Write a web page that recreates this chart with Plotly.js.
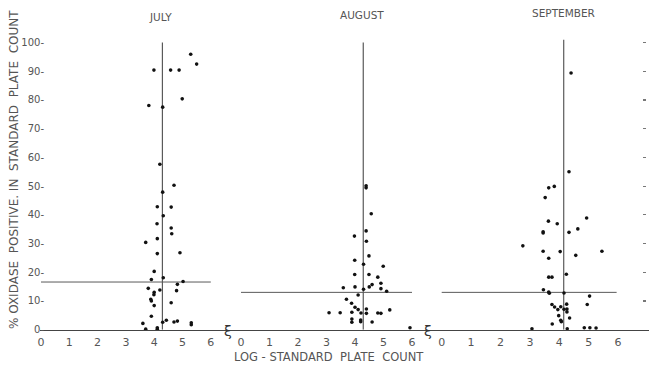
<!DOCTYPE html>
<html>
<head>
<meta charset="utf-8">
<script src="https://cdn.plot.ly/plotly-3.0.1.min.js"></script>
<style>html,body{margin:0;padding:0;background:#fff;}#chart{width:652px;height:367px;}</style>
</head>
<body>
<div id="chart"></div>
<script>
// Panel names
const months = ["JULY", "AUGUST", "SEPTEMBER"];
// Tick labels
const xTickVals = [0, 1, 2, 3, 4, 5, 6];
const yTickVals = [0, 10, 20, 30, 40, 50, 60, 70, 80, 90, 100];
const yTickText = ["0-", "10-", "20-", "30-", "40-", "50-", "60-", "70-", "80-", "90-", "100-"];

// July: log standard plate count vs % oxidase positive
const julyLog = [5.29, 5.50, 3.99, 4.58, 4.88, 4.99, 3.81, 4.30, 4.20, 4.70, 4.30, 4.11, 4.60, 4.32, 4.10, 4.60, 4.62, 3.70, 4.11, 4.11, 4.91, 4.00, 3.90, 4.32, 5.02, 4.82, 3.79, 4.20, 4.79, 4.00, 3.99, 3.88, 3.90, 4.00, 4.60, 3.90, 3.60, 4.30, 4.43, 4.70, 4.82, 5.31, 5.31, 3.70, 4.11, 4.11];
const julyPct = [95.9, 92.5, 90.4, 90.4, 90.4, 80.4, 78.1, 77.5, 57.6, 50.3, 47.9, 42.8, 42.7, 39.7, 36.9, 35.4, 33.4, 30.4, 31.7, 26.5, 26.8, 20.3, 17.5, 18.1, 16.8, 15.8, 14.4, 13.8, 13.6, 13.0, 12.2, 10.6, 10.0, 8.4, 9.4, 4.7, 2.2, 2.6, 3.3, 2.7, 3.0, 2.4, 1.7, 0.2, 0.7, 0.2];

// August
const augLog = [4.39, 4.39, 4.57, 3.98, 4.39, 4.40, 4.49, 3.99, 4.30, 4.99, 3.99, 4.49, 4.80, 4.91, 4.60, 3.59, 4.00, 4.50, 4.91, 4.30, 5.11, 4.11, 3.70, 3.88, 4.00, 4.11, 4.40, 4.21, 4.40, 3.09, 3.48, 3.89, 4.80, 4.91, 5.22, 3.89, 3.89, 4.20, 4.20, 4.60, 5.93];
const augPct = [50.1, 49.4, 40.4, 32.6, 34.4, 30.8, 25.7, 24.2, 22.8, 22.1, 19.2, 19.2, 18.3, 16.2, 15.7, 14.6, 14.9, 14.9, 14.3, 14.1, 13.4, 12.1, 10.6, 9.2, 7.8, 7.0, 7.2, 5.8, 5.7, 5.9, 5.9, 6.1, 5.8, 5.7, 6.9, 3.7, 2.6, 3.4, 2.8, 2.7, 0.7];

// September
const sepLog = [4.40, 4.33, 3.64, 3.83, 3.52, 3.63, 3.93, 4.93, 4.63, 3.45, 3.45, 4.33, 2.76, 3.45, 3.64, 4.03, 4.56, 5.45, 3.64, 3.75, 4.24, 3.46, 3.64, 3.66, 4.16, 5.03, 4.95, 3.75, 3.84, 4.05, 3.95, 4.25, 4.26, 4.26, 4.35, 3.98, 4.05, 4.07, 3.76, 4.16, 3.07, 4.27, 4.85, 5.04, 5.25];
const sepPct = [89.4, 55.0, 49.4, 49.9, 46.0, 37.8, 36.9, 38.9, 35.1, 34.1, 33.7, 33.9, 29.2, 27.3, 24.9, 27.2, 25.9, 27.3, 18.3, 18.3, 19.3, 13.9, 13.1, 12.7, 12.8, 11.7, 8.8, 8.8, 7.9, 8.0, 7.0, 8.9, 7.2, 6.2, 4.1, 4.9, 3.3, 2.8, 2.0, 7.1, 0.3, 0.3, 0.7, 0.7, 0.6];

// Median guide lines per month
const medianLog = [4.29, 4.29, 4.15];
const medianPct = [16.6, 13.0, 13.0];
const guideLogMax = [6, 6, 5.95];
const guidePctMax = [100, 100, 101];

const xs = [julyLog, augLog, sepLog];
const ys = [julyPct, augPct, sepPct];
const xaxisIds = ["x", "x2", "x3"];

const lineColor = "#5a5a5a";
const textColor = "#555";
const traces = [];
for (let i = 0; i < 3; i++) {
  traces.push({
    type: "scatter", mode: "lines", xaxis: xaxisIds[i], yaxis: "y",
    x: [0, guideLogMax[i]], y: [medianPct[i], medianPct[i]],
    line: {color: lineColor, width: 1}, hoverinfo: "skip", showlegend: false
  });
  traces.push({
    type: "scatter", mode: "lines", xaxis: xaxisIds[i], yaxis: "y",
    x: [medianLog[i], medianLog[i]], y: [0, guidePctMax[i]],
    line: {color: lineColor, width: 1.2}, hoverinfo: "skip", showlegend: false
  });
  traces.push({
    type: "scatter", mode: "markers", xaxis: xaxisIds[i], yaxis: "y",
    x: xs[i], y: ys[i], cliponaxis: false, name: months[i],
    marker: {color: "#111", size: 3.6, symbol: "circle", line: {width: 0}}, showlegend: false
  });
}
// carrier so the right-hand tick axis is drawn
traces.push({type: "scatter", mode: "markers", xaxis: "x3", yaxis: "y2", x: [null], y: [null],
  hoverinfo: "skip", showlegend: false});

const W = 652, H = 367;
const tickFont = {family: "DejaVu Sans, sans-serif", size: 11, color: textColor};
function xa(pxL, pxR, x0, ppu) {
  return {
    domain: [pxL / W, pxR / W],
    range: [(pxL - x0) / ppu, (pxR - x0) / ppu],
    anchor: "y", showgrid: false, zeroline: false,
    showline: true, linecolor: "#444", linewidth: 1.3,
    ticks: "", tickvals: xTickVals, ticktext: xTickVals.map(String),
    tickfont: tickFont, ticklabelstandoff: 2
  };
}
const annFont = (s) => ({family: "DejaVu Sans, sans-serif", size: s, color: textColor});

const layout = {
  width: W, height: H,
  margin: {l: 0, r: 0, t: 0, b: 0},
  paper_bgcolor: "#fff", plot_bgcolor: "rgba(0,0,0,0)",
  showlegend: false,
  xaxis: xa(40, 228, 41, 28.3),
  xaxis2: xa(229, 428, 241, 28.5),
  xaxis3: xa(429, 649, 441.7, 29.4),
  yaxis: {
    domain: [1 - 329.7 / H, 1 - 36.8 / H], range: [0, 102],
    anchor: "free", position: 44 / W,
    showgrid: false, zeroline: false, showline: false,
    ticks: "", tickvals: yTickVals, ticktext: yTickText,
    tickfont: {family: "DejaVu Sans, sans-serif", size: 10, color: textColor},
    ticklabelstandoff: 0
  },
  yaxis2: {
    domain: [1 - 329.7 / H, 1 - 36.8 / H], range: [0, 102],
    overlaying: "y", side: "right", anchor: "free", position: 642 / W,
    showgrid: false, zeroline: false, showline: false,
    ticks: "outside", ticklen: 3, tickwidth: 1.2, tickcolor: "#777",
    tickvals: yTickVals.slice(1), showticklabels: false
  },
  annotations: [
    {text: months[0], xref: "paper", yref: "paper", x: 160 / W, y: 1 - 17 / H, xanchor: "center", yanchor: "middle",
     showarrow: false, font: annFont(10.5)},
    {text: months[1], xref: "paper", yref: "paper", x: 362 / W, y: 1 - 15 / H, xanchor: "center", yanchor: "middle",
     showarrow: false, font: annFont(10.5)},
    {text: months[2], xref: "paper", yref: "paper", x: 563 / W, y: 1 - 13 / H, xanchor: "center", yanchor: "middle",
     showarrow: false, font: annFont(10.5)},
    {text: "LOG - STANDARD  PLATE  COUNT", xref: "paper", yref: "paper", x: 329 / W, y: 1 - 357 / H,
     xanchor: "center", yanchor: "middle", showarrow: false, font: annFont(11.5)},
    {text: "% OXIDASE  POSITIVE. IN  STANDARD  PLATE  COUNT", xref: "paper", yref: "paper",
     x: 14 / W, y: 1 - 170 / H, xanchor: "center", yanchor: "middle", textangle: -90, showarrow: false,
     font: annFont(12)},
    {text: "ξ", xref: "paper", yref: "paper", x: 228 / W, y: 1 - 331 / H, xanchor: "center", yanchor: "middle",
     showarrow: false, font: {family: "DejaVu Sans, sans-serif", size: 14, color: "#333"}},
    {text: "ξ", xref: "paper", yref: "paper", x: 428 / W, y: 1 - 331 / H, xanchor: "center", yanchor: "middle",
     showarrow: false, font: {family: "DejaVu Sans, sans-serif", size: 14, color: "#333"}}
  ]
};

Plotly.newPlot("chart", traces, layout, {staticPlot: true, displayModeBar: false});
</script>
</body>
</html>
